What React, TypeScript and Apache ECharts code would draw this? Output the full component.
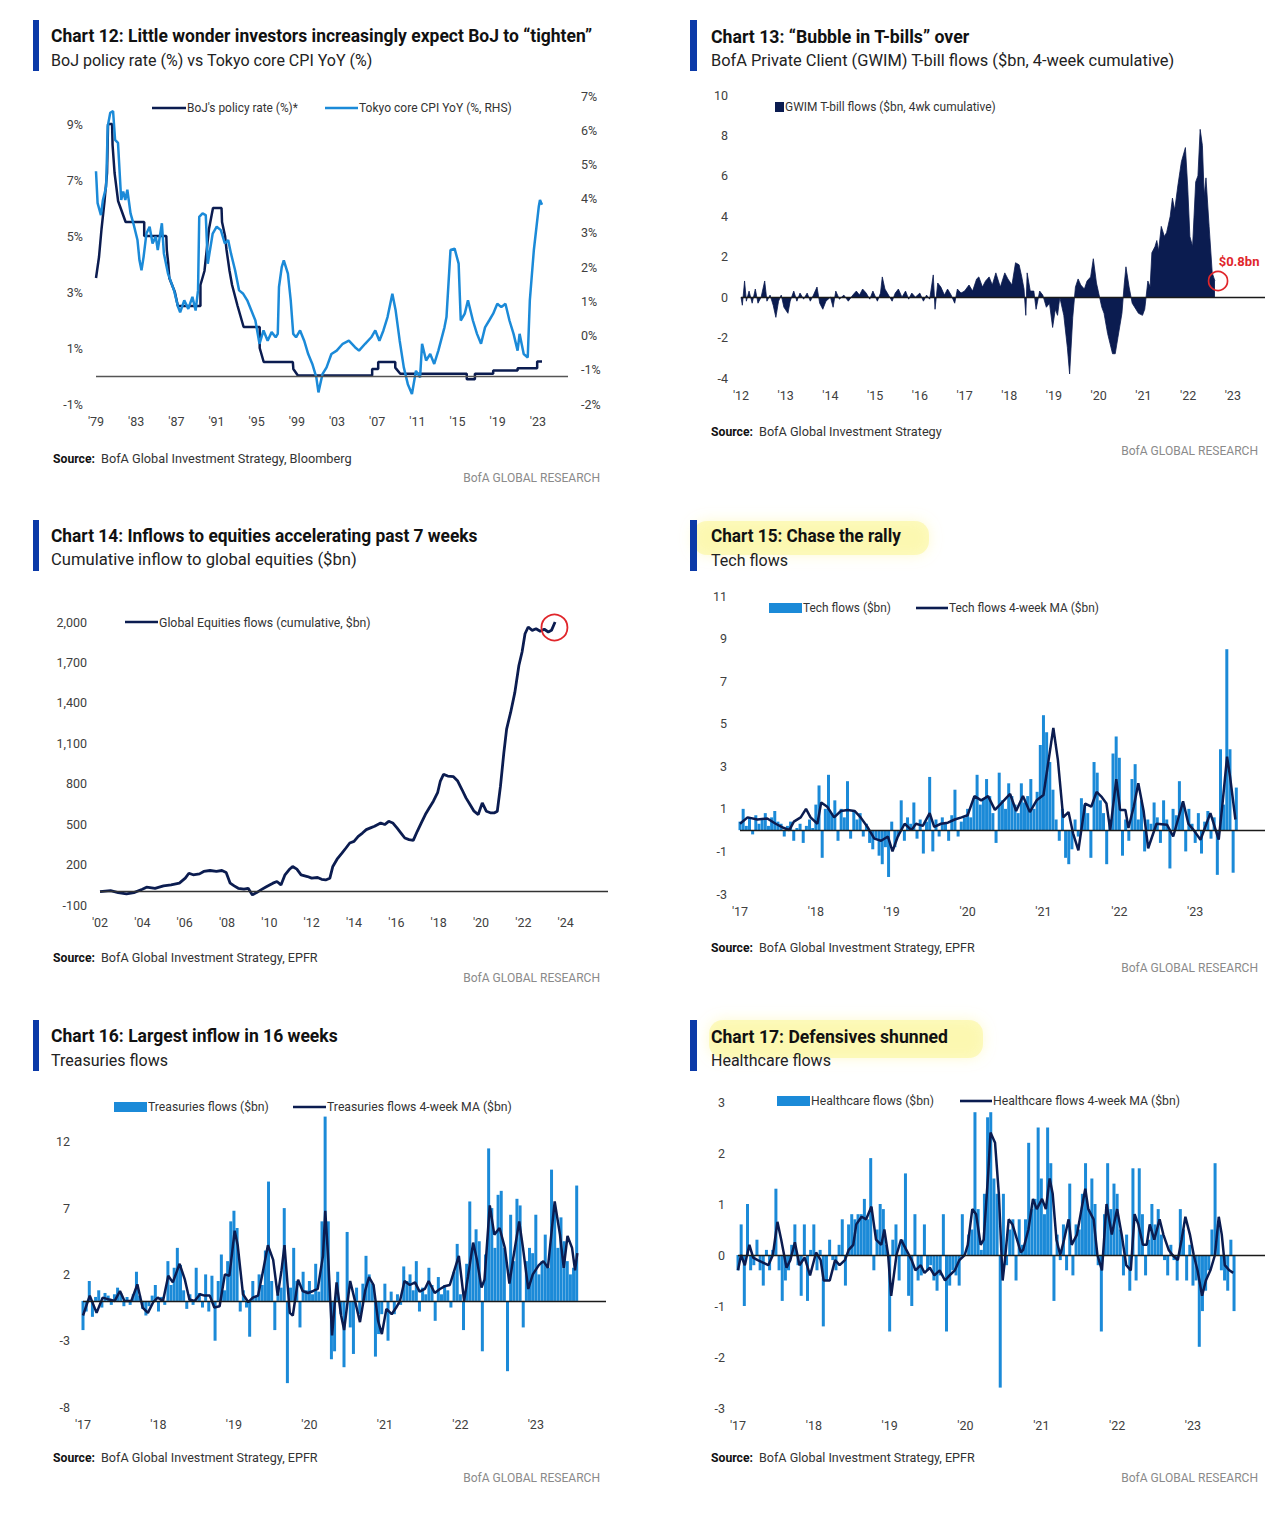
import React, { useEffect, useRef } from "react";
import * as echarts from "echarts";

const FONT = "Roboto, 'Liberation Sans', sans-serif";
const NAVY = "#0b1c50";
const SKY = "#1b8ad8";
const BRAND_BLUE = "#0b3aa8";
const RED = "#e0262b";
const AXIS_TEXT = "#404040";

// ---------- Chart 12: BoJ policy rate (LHS) vs Tokyo core CPI YoY (RHS) ----------
const BOJ_POLICY_RATE = [
  [1979.0, 3.5], [1979.3, 4.25], [1979.55, 5.25], [1979.85, 6.25], [1980.1, 7.25], [1980.2, 9.0], [1980.6, 9.0],
  [1980.65, 8.25], [1980.85, 7.25], [1981.2, 6.25], [1981.95, 5.5], [1983.8, 5.5], [1983.8, 5.0], [1986.0, 5.0],
  [1986.05, 4.5], [1986.2, 4.0], [1986.3, 3.5], [1986.85, 3.0], [1987.15, 2.5], [1989.4, 2.5], [1989.4, 3.25],
  [1989.8, 3.75], [1989.95, 4.25], [1990.25, 5.25], [1990.65, 6.0], [1991.5, 6.0], [1991.55, 5.5], [1991.85, 5.0],
  [1992.0, 4.5], [1992.3, 3.75], [1992.55, 3.25], [1993.1, 2.5], [1993.7, 1.75], [1995.3, 1.75], [1995.3, 1.0],
  [1995.7, 0.5], [1998.6, 0.5], [1998.65, 0.25], [1999.1, 0.02], [2006.5, 0.02], [2006.5, 0.25], [2007.1, 0.25],
  [2007.1, 0.5], [2008.8, 0.5], [2008.8, 0.3], [2009.3, 0.08], [2015.92, 0.08], [2015.92, -0.12], [2016.73, -0.12],
  [2016.73, 0.08], [2018.55, 0.08], [2018.55, 0.2], [2020.98, 0.2], [2020.98, 0.28], [2022.93, 0.28], [2022.93, 0.52],
  [2023.41, 0.52]
];
const TOKYO_CORE_CPI = [
  [1979.0, 4.8], [1979.16, 3.87], [1979.49, 3.52], [1979.69, 3.96], [1980.01, 4.35], [1980.17, 6.12], [1980.42, 6.51],
  [1980.7, 6.56], [1980.9, 5.72], [1981.19, 5.63], [1981.51, 3.96], [1981.71, 4.21], [1981.92, 3.96], [1982.12, 4.26],
  [1982.44, 3.57], [1982.72, 3.28], [1983.13, 2.79], [1983.33, 2.2], [1983.53, 1.91], [1983.74, 2.3], [1984.02, 2.98],
  [1984.34, 3.18], [1984.63, 2.69], [1984.95, 2.89], [1985.15, 2.5], [1985.56, 3.28], [1985.76, 2.4], [1986.17, 1.81],
  [1986.77, 1.32], [1987.18, 0.83], [1987.38, 0.68], [1987.79, 1.03], [1988.19, 0.78], [1988.6, 1.13], [1988.92, 0.73],
  [1989.16, 1.32], [1989.28, 3.47], [1989.61, 3.57], [1989.93, 3.52], [1990.13, 2.1], [1990.62, 2.98], [1991.02, 3.18],
  [1991.43, 3.08], [1991.83, 2.69], [1992.16, 2.79], [1992.44, 2.4], [1992.85, 1.91], [1993.25, 1.32], [1993.66, 1.22],
  [1994.06, 1.03], [1994.47, 0.73], [1994.87, 0.44], [1995.28, -0.24], [1995.68, 0.15], [1996.09, -0.15], [1996.49, 0.1],
  [1996.89, -0.05], [1997.1, 0.05], [1997.22, 1.42], [1997.5, 2.01], [1997.7, 2.2], [1998.11, 1.81], [1998.39, 1.03],
  [1998.64, 0.05], [1998.92, -0.05], [1999.32, 0.15], [1999.73, -0.15], [2000.13, -0.54], [2000.54, -0.83],
  [2000.94, -1.22], [2001.15, -1.66], [2001.55, -1.13], [2001.96, -0.93], [2002.44, -0.54], [2002.97, -0.44],
  [2003.57, -0.24], [2004.18, -0.15], [2004.79, -0.34], [2005.19, -0.44], [2005.8, -0.24], [2006.41, -0.05],
  [2006.81, 0.15], [2007.22, -0.15], [2007.62, 0.15], [2008.03, 0.54], [2008.51, 1.22], [2008.84, 0.73],
  [2009.24, -0.15], [2009.65, -0.93], [2010.05, -1.42], [2010.46, -1.71], [2010.86, -1.03], [2011.27, -1.22],
  [2011.47, -0.24], [2011.87, -0.73], [2012.28, -0.54], [2012.68, -0.83], [2013.09, -0.44], [2013.7, 0.24],
  [2013.9, 0.54], [2014.3, 2.5], [2014.71, 2.54], [2015.11, 2.1], [2015.32, 0.44], [2015.72, 0.64], [2016.04, 1.03],
  [2016.53, 0.44], [2016.94, 0.05], [2017.34, -0.24], [2017.74, 0.24], [2018.15, 0.44], [2018.55, 0.64],
  [2018.96, 0.93], [2019.36, 0.83], [2019.77, 0.93], [2020.17, 0.44], [2020.58, 0.05], [2020.98, -0.44],
  [2021.18, 0.05], [2021.59, -0.54], [2021.99, -0.64], [2022.2, 1.03], [2022.6, 2.5], [2023.09, 3.77],
  [2023.21, 3.96], [2023.41, 3.82]
];

// ---------- Chart 13: GWIM T-bill flows ($bn, 4wk cumulative) ----------
const GWIM_TBILL_FLOWS = [
  [2012.0, 0.0], [2012.03, -0.4], [2012.08, 0.8], [2012.12, -0.2], [2012.18, 0.3], [2012.25, -0.3], [2012.32, 0.4],
  [2012.38, -0.3], [2012.45, 0.0], [2012.53, 0.8], [2012.58, -0.2], [2012.65, 0.1], [2012.72, -0.4], [2012.78, -1.0],
  [2012.84, -0.2], [2012.9, 0.1], [2012.96, -0.5], [2013.05, -0.8], [2013.1, -0.2], [2013.18, 0.3], [2013.25, -0.2],
  [2013.32, 0.2], [2013.4, -0.1], [2013.48, 0.2], [2013.55, -0.2], [2013.62, 0.1], [2013.7, 0.5], [2013.76, -0.3],
  [2013.83, -0.6], [2013.9, -0.2], [2014.0, 0.0], [2014.06, -0.5], [2014.12, 0.3], [2014.2, -0.1], [2014.3, 0.1],
  [2014.4, -0.2], [2014.5, 0.1], [2014.58, 0.3], [2014.65, 0.1], [2014.72, 0.4], [2014.8, 0.2], [2014.88, -0.1],
  [2014.95, 0.3], [2015.05, -0.2], [2015.12, 0.2], [2015.16, 1.0], [2015.22, 0.4], [2015.3, 0.1], [2015.38, -0.2],
  [2015.45, 0.2], [2015.52, 0.4], [2015.6, 0.0], [2015.68, 0.3], [2015.75, -0.1], [2015.82, 0.2], [2015.9, 0.0],
  [2016.0, 0.2], [2016.08, -0.2], [2016.15, 0.1], [2016.22, -0.1], [2016.3, 1.1], [2016.34, -0.6], [2016.4, 0.7],
  [2016.47, 0.5], [2016.55, 0.1], [2016.62, 0.4], [2016.7, 0.1], [2016.78, -0.3], [2016.84, 0.4], [2016.92, 0.2],
  [2017.0, 0.3], [2017.1, 0.6], [2017.18, 0.3], [2017.27, 0.9], [2017.32, 1.0], [2017.4, 0.5], [2017.47, 0.8],
  [2017.55, 1.0], [2017.62, 0.6], [2017.7, 1.2], [2017.8, 0.5], [2017.9, 1.2], [2017.97, 0.9], [2018.06, 0.6],
  [2018.14, 1.7], [2018.22, 1.6], [2018.28, 1.0], [2018.33, 0.4], [2018.37, -0.9], [2018.4, 1.2], [2018.47, 0.3],
  [2018.55, 0.3], [2018.6, -0.6], [2018.68, 0.3], [2018.75, 0.1], [2018.83, -0.5], [2018.9, -0.3], [2018.97, -1.5],
  [2019.03, -0.6], [2019.08, -0.9], [2019.13, 0.0], [2019.22, -0.9], [2019.3, -2.5], [2019.35, -3.8], [2019.42, -1.0],
  [2019.48, 0.5], [2019.54, 0.9], [2019.6, 0.6], [2019.68, 0.4], [2019.74, 0.8], [2019.82, 1.0], [2019.88, 1.9],
  [2019.95, 0.7], [2020.0, 0.2], [2020.07, -0.5], [2020.12, -0.8], [2020.2, -1.8], [2020.31, -2.8], [2020.37, -2.8],
  [2020.43, -2.0], [2020.52, -0.8], [2020.57, 0.6], [2020.61, 1.5], [2020.68, 0.5], [2020.75, -0.3], [2020.89, -0.8],
  [2020.98, -0.9], [2021.03, -0.6], [2021.1, 0.8], [2021.15, 0.5], [2021.19, 2.2], [2021.26, 2.5], [2021.3, 2.8],
  [2021.34, 2.3], [2021.4, 3.5], [2021.47, 3.0], [2021.52, 3.2], [2021.6, 4.0], [2021.65, 4.9], [2021.7, 4.3],
  [2021.77, 5.5], [2021.85, 6.7], [2021.94, 7.4], [2021.99, 5.5], [2022.04, 3.0], [2022.1, 2.5], [2022.17, 5.7],
  [2022.22, 6.0], [2022.27, 8.3], [2022.32, 7.5], [2022.36, 5.0], [2022.4, 5.9], [2022.47, 3.5], [2022.54, 1.2],
  [2022.6, 0.8]
];

// ---------- Chart 14: Global equities flows (cumulative, $bn) ----------
const GLOBAL_EQUITY_FLOWS = [
  [2002.0, 0], [2002.5, 7], [2002.86, -8], [2003.25, -18], [2003.6, -8], [2004.0, 17], [2004.2, 32], [2004.6, 24],
  [2005.0, 42], [2005.36, 49], [2005.75, 62], [2006.03, 99], [2006.2, 136], [2006.4, 124], [2006.7, 131], [2006.9, 149],
  [2007.2, 156], [2007.5, 149], [2007.76, 156], [2007.96, 141], [2008.15, 62], [2008.34, 42], [2008.53, 24], [2008.8, 17],
  [2009.0, 24], [2009.2, -25], [2009.4, -8], [2009.6, 12], [2009.88, 37], [2010.17, 62], [2010.36, 74], [2010.55, 49],
  [2010.74, 124], [2010.93, 161], [2011.1, 186], [2011.3, 166], [2011.5, 124], [2011.8, 111], [2012.0, 99],
  [2012.28, 104], [2012.47, 91], [2012.66, 86], [2012.86, 99], [2013.0, 186], [2013.2, 240], [2013.43, 285],
  [2013.62, 323], [2013.8, 360], [2014.0, 372], [2014.2, 410], [2014.4, 434], [2014.58, 459], [2014.78, 472],
  [2014.97, 484], [2015.26, 509], [2015.45, 497], [2015.64, 521], [2015.83, 509], [2016.03, 472], [2016.22, 434],
  [2016.4, 397], [2016.6, 385], [2016.8, 380], [2016.99, 447], [2017.18, 509], [2017.37, 571], [2017.56, 621],
  [2017.75, 670], [2017.95, 733], [2018.08, 820], [2018.23, 869], [2018.43, 857], [2018.7, 852], [2018.9, 820],
  [2019.1, 757], [2019.29, 695], [2019.48, 646], [2019.67, 596], [2019.87, 571], [2020.06, 658], [2020.25, 596],
  [2020.44, 584], [2020.64, 584], [2020.77, 596], [2020.92, 782], [2021.08, 1031], [2021.21, 1205], [2021.4, 1329],
  [2021.6, 1478], [2021.79, 1677], [2021.94, 1777], [2022.08, 1913], [2022.23, 1963], [2022.42, 1938], [2022.6, 1950],
  [2022.8, 1931], [2022.99, 1946], [2023.18, 1926], [2023.33, 1938], [2023.5, 2000]
];

// ---------- Weekly sector flows, sampled every half month from Jan 2017 ----------
const FLOW_START = 2017;
const FLOW_STEP = 1 / 24;

const TECH_FLOWS = [
  0.4, 1.0, 0.2, 0.6, -0.2, 0.7, 0.3, 0.5, 0.8, 0.2, 0.6, 0.9, 0.4, 0.3, -0.3, 0.2, 0.4, -0.5, 0.1, 0.3, -0.6, 0.2, 0.5, 0.1,
  1.2, 2.1, -1.3, 1.0, 2.6, 0.8, 1.4, -0.5, 1.0, 0.6, 2.3, -0.4, 0.9, 0.5, 0.8, -0.3, 0.3, -0.6, -0.9, -0.4, -1.2, -1.6, -0.8, -2.2,
  0.4, -0.8, -0.3, 1.4, -0.5, 0.6, 0.3, 1.3, -0.4, 0.5, -1.1, 0.4, 2.5, -1.0, 0.5, -0.3, 0.6, 0.3, -0.5, 0.7, 1.9, -0.3, 0.4, 0.6,
  1.0, 0.6, 1.5, 2.6, 1.2, 1.5, 2.4, 1.6, 0.8, -0.6, 2.7, 1.4, 1.0, 2.2, 1.6, 1.2, 0.8, 2.2, 1.3, 1.6, 2.4, 1.0, 1.8, 4.0,
  5.4, 4.6, 3.2, 1.9, 0.5, -0.5, 1.0, -1.3, -1.6, -0.9, 0.5, -0.3, 1.5, 1.2, 0.8, -1.3, 3.2, 2.7, 1.4, 0.8, -1.6, 0.5, 3.6, 4.4,
  3.4, -1.2, 0.5, -0.5, 2.4, 3.1, 0.5, 1.4, -1.0, 0.5, 0.3, 1.3, 0.6, -0.6, 1.4, 0.5, -1.8, 1.0, 0.7, 2.3, 1.3, -1.0, 1.0, 0.3,
  -0.6, 0.8, -1.1, 0.4, 0.9, -0.4, 0.6, -2.1, 3.8, 1.2, 8.5, 3.8, -2.0, 2.0
];
const TECH_FLOWS_MA = [
  [2017.0, 0.3], [2017.1, 0.6], [2017.23, 0.5], [2017.36, 0.55], [2017.47, 0.3], [2017.58, 0.1], [2017.65, 0.0],
  [2017.71, 0.4], [2017.8, 0.6], [2017.87, 1.0], [2017.93, 0.6], [2018.02, 0.3], [2018.07, 1.3], [2018.15, 1.1],
  [2018.24, 0.6], [2018.33, 0.9], [2018.42, 0.95], [2018.51, 0.9], [2018.59, 0.6], [2018.68, 0.15], [2018.77, -0.4],
  [2018.86, -0.5], [2018.95, -0.3], [2019.01, -1.0], [2019.08, -0.3], [2019.17, 0.3], [2019.26, 0.0], [2019.32, 0.3],
  [2019.41, 0.2], [2019.5, 0.8], [2019.56, 0.15], [2019.65, 0.3], [2019.74, 0.35], [2019.83, 0.5], [2019.92, 0.6],
  [2020.0, 0.7], [2020.09, 1.6], [2020.18, 1.4], [2020.27, 1.6], [2020.36, 0.95], [2020.44, 1.25], [2020.56, 1.7],
  [2020.64, 0.9], [2020.73, 1.6], [2020.82, 0.85], [2020.91, 1.4], [2021.0, 1.65], [2021.13, 4.8], [2021.19, 3.3],
  [2021.26, 0.6], [2021.33, 0.85], [2021.39, -0.15], [2021.46, -0.95], [2021.55, 1.25], [2021.63, 1.1], [2021.7, 1.8],
  [2021.77, 1.55], [2021.83, 1.25], [2021.88, 0.0], [2021.96, 2.4], [2022.01, 0.95], [2022.08, 0.95], [2022.12, 0.1],
  [2022.19, 1.1], [2022.25, 2.2], [2022.32, 0.9], [2022.38, -0.85], [2022.49, 0.3], [2022.63, 0.25], [2022.71, -0.3],
  [2022.84, 1.35], [2022.91, 0.3], [2022.98, 0.0], [2023.07, -0.45], [2023.2, 0.8], [2023.31, -0.45], [2023.36, 1.25],
  [2023.42, 3.45], [2023.46, 2.5], [2023.53, 0.5]
];

const TREASURY_FLOWS = [
  -2.2, -0.8, 1.5, -1.2, 0.3, 0.8, -0.5, 0.6, 0.4, -0.3, 0.5, 1.0, 0.6, -0.4, 0.3, -0.3, 0.5, 2.2, 0.4, -0.6, -1.1, -0.4, 0.4, 1.2,
  -0.8, 0.3, -0.3, 3.0, 1.2, 2.5, 4.0, 2.7, 0.8, -0.6, 0.5, -0.3, 2.5, 0.6, -0.5, 2.0, -0.8, 1.9, -3.0, 1.5, 3.5, 0.8, 3.0, 6.0,
  6.8, 5.5, -0.8, 0.8, -0.5, -2.7, 1.5, 0.3, 2.0, 1.2, 3.8, 9.0, 1.5, -2.2, 0.5, 1.0, 7.0, -6.2, 1.0, 4.0, 1.5, -2.0, 2.2, 0.8,
  1.5, 0.5, 2.8, 0.7, 6.0, 13.9, 6.0, -4.4, -3.8, 2.2, -1.0, -5.0, 5.2, -2.0, -4.0, 1.0, -1.0, 1.3, 3.4, 2.0, 1.3, -4.2, -2.5, -1.0,
  1.3, -3.0, 0.7, -1.0, 0.5, -0.3, 2.6, 1.5, 2.0, 0.8, 3.0, -0.8, 1.0, 0.5, 2.5, 1.2, -1.5, 1.8, 0.5, 1.2, 0.8, -0.5, 2.2, 4.3,
  0.5, -2.2, 2.8, 7.5, 4.0, 5.4, 4.5, -3.8, 3.5, 11.5, 7.0, 4.0, 8.0, 8.3, 4.0, -5.3, 6.5, 3.0, 7.7, 7.2, -2.0, 3.0, 4.0, 3.6,
  6.5, 2.0, 3.0, 5.0, 2.5, 9.9, 7.0, 4.0, 6.3, 4.5, 3.0, 2.0, 2.5, 8.7
];
const TREASURY_FLOWS_MA = [
  [2017.0, -1.1], [2017.09, 0.4], [2017.18, -0.9], [2017.26, 0.25], [2017.35, 0.1], [2017.42, 0.0], [2017.49, 0.75],
  [2017.55, 0.0], [2017.64, 0.0], [2017.72, 1.25], [2017.79, -0.5], [2017.86, -0.9], [2017.93, -0.1], [2017.99, 0.25],
  [2018.06, 0.0], [2018.13, 1.9], [2018.19, 1.4], [2018.28, 2.8], [2018.35, 1.6], [2018.41, 0.1], [2018.48, 0.0],
  [2018.55, 0.5], [2018.61, 0.4], [2018.68, 0.4], [2018.74, -0.5], [2018.81, -0.4], [2018.88, 2.0], [2018.94, 1.9],
  [2019.01, 5.3], [2019.05, 4.2], [2019.12, 0.5], [2019.19, -0.1], [2019.25, 0.25], [2019.32, 0.4], [2019.38, 2.1],
  [2019.45, 4.2], [2019.52, 3.1], [2019.58, 0.4], [2019.63, 2.3], [2019.67, 4.2], [2019.74, -0.9], [2019.78, -1.1],
  [2019.85, 1.6], [2019.91, 0.75], [2019.98, 0.6], [2020.05, 0.75], [2020.11, 0.9], [2020.18, 3.4], [2020.21, 6.8],
  [2020.25, 3.1], [2020.3, -2.6], [2020.36, 1.4], [2020.42, -1.1], [2020.46, -2.2], [2020.54, 1.5], [2020.6, 0.1],
  [2020.67, -1.6], [2020.74, 0.8], [2020.79, 1.8], [2020.85, 1.2], [2020.91, -1.5], [2020.96, -2.5], [2021.02, -0.6],
  [2021.09, -1.0], [2021.15, -0.5], [2021.2, 0.0], [2021.26, 1.5], [2021.33, 1.2], [2021.4, 1.4], [2021.46, 0.7],
  [2021.53, 0.9], [2021.58, 1.5], [2021.66, 0.6], [2021.73, 0.9], [2021.79, 1.1], [2021.86, 1.2], [2021.92, 2.3],
  [2021.98, 3.4], [2022.05, 0.0], [2022.1, 1.8], [2022.17, 4.4], [2022.22, 3.1], [2022.28, 1.0], [2022.32, 1.6],
  [2022.39, 7.2], [2022.45, 5.0], [2022.52, 5.5], [2022.59, 4.0], [2022.65, 1.3], [2022.7, 3.2], [2022.78, 6.0],
  [2022.83, 4.0], [2022.9, 0.9], [2022.96, 2.0], [2023.04, 2.7], [2023.1, 3.0], [2023.16, 2.5], [2023.25, 7.5],
  [2023.32, 5.0], [2023.37, 2.5], [2023.42, 4.9], [2023.48, 4.0], [2023.52, 2.3], [2023.55, 3.6]
];

const HEALTHCARE_FLOWS = [
  -0.3, 0.6, -1.0, 1.0, -0.3, -0.2, 0.3, -0.3, -0.6, 0.1, -0.3, 0.1, 1.3, -0.3, -0.9, -0.5, -0.3, 0.2, 0.6, -0.2, -0.8, 0.6, -0.9, 0.1,
  0.6, -0.3, 0.1, -1.4, -0.5, 0.3, -0.1, -0.3, 0.2, 0.7, -0.6, 0.6, 0.8, 0.7, 0.8, 0.8, 1.1, 0.7, 1.9, -0.3, 0.5, 1.0, 0.9, 0.2,
  -1.5, 0.3, 0.6, -0.5, 0.3, 1.6, -0.8, -1.0, 0.8, -0.5, -0.4, 0.6, -0.3, -0.2, -0.5, -0.7, -0.4, 0.8, -1.5, -0.6, -0.3, -0.4, -0.6, 0.8,
  0.0, 0.4, 0.5, 2.8, 0.9, 0.1, 1.2, 2.7, 2.8, 1.5, 1.2, -2.6, 1.2, -0.2, 0.5, 0.7, -0.5, 0.7, 0.2, 0.7, 2.2, 0.9, 1.1, 2.5,
  1.5, 0.8, 2.5, 1.8, -0.9, 0.4, -0.1, 0.6, -0.3, 1.4, -0.4, 0.6, 0.5, 1.2, 1.8, 0.9, 1.5, 1.0, -0.2, -1.5, 0.8, 1.8, 0.9, 1.4,
  1.2, 0.5, -0.4, 0.4, -0.7, 1.7, -0.5, 1.7, 0.8, -0.4, 0.3, 1.0, 0.6, 0.9, 0.4, -0.1, -0.4, 0.2, -0.1, -0.5, 0.9, 0.5, -0.5, 0.2,
  -0.6, -0.5, -1.8, -1.1, -0.7, -0.3, 0.5, 1.8, 0.6, -0.3, -0.5, -0.7, 0.3, -1.1
];
const HEALTHCARE_FLOWS_MA = [
  [2017.0, -0.3], [2017.04, 0.0], [2017.09, -0.2], [2017.15, 0.2], [2017.2, -0.05], [2017.26, -0.1], [2017.33, -0.15],
  [2017.4, -0.2], [2017.46, 0.0], [2017.52, 0.65], [2017.57, 0.3], [2017.64, -0.25], [2017.69, -0.1], [2017.75, 0.25],
  [2017.81, -0.2], [2017.88, -0.05], [2017.95, -0.4], [2018.03, 0.05], [2018.09, -0.1], [2018.13, -0.5], [2018.21, -0.5],
  [2018.28, -0.1], [2018.34, -0.2], [2018.41, -0.1], [2018.46, 0.1], [2018.52, 0.2], [2018.56, 0.6], [2018.63, 0.75],
  [2018.69, 0.7], [2018.76, 0.95], [2018.82, 0.3], [2018.89, 0.2], [2018.93, 0.5], [2018.98, 0.0], [2019.02, -0.8],
  [2019.09, 0.0], [2019.15, 0.3], [2019.22, 0.1], [2019.29, -0.1], [2019.34, -0.3], [2019.41, -0.2], [2019.46, -0.35],
  [2019.53, -0.25], [2019.59, -0.4], [2019.66, -0.3], [2019.73, -0.5], [2019.79, -0.4], [2019.86, -0.3], [2019.92, -0.1],
  [2019.99, 0.0], [2020.03, 0.2], [2020.09, 0.9], [2020.14, 0.8], [2020.2, 0.2], [2020.24, 0.3], [2020.3, 1.6],
  [2020.33, 2.4], [2020.39, 2.2], [2020.44, 1.2], [2020.49, -0.5], [2020.52, -0.1], [2020.57, 0.7], [2020.62, 0.6],
  [2020.68, 0.3], [2020.73, 0.05], [2020.76, 0.1], [2020.83, 0.5], [2020.89, 1.1], [2020.94, 0.9], [2021.01, 1.1],
  [2021.06, 0.9], [2021.11, 1.5], [2021.15, 1.2], [2021.2, 0.3], [2021.25, 0.0], [2021.3, 0.3], [2021.36, 0.7],
  [2021.4, 0.2], [2021.47, 0.4], [2021.53, 0.9], [2021.58, 1.3], [2021.62, 0.9], [2021.69, 0.7], [2021.74, 0.0],
  [2021.8, -0.3], [2021.86, 1.0], [2021.93, 0.4], [2022.0, 0.9], [2022.06, 0.4], [2022.12, -0.2], [2022.18, -0.3],
  [2022.23, 0.8], [2022.28, 0.6], [2022.34, 0.2], [2022.39, 0.2], [2022.43, 0.6], [2022.49, 0.3], [2022.56, 0.7],
  [2022.61, 0.4], [2022.68, 0.1], [2022.73, 0.0], [2022.8, -0.1], [2022.85, 0.3], [2022.9, 0.75], [2022.96, 0.4],
  [2023.01, 0.0], [2023.06, -0.3], [2023.12, -0.8], [2023.17, -0.5], [2023.23, -0.3], [2023.29, 0.0], [2023.34, 0.75],
  [2023.38, 0.4], [2023.42, -0.2], [2023.48, -0.3], [2023.53, -0.35]
];

// ---------- Layout (pixel boxes of each plot) ----------
const GRIDS = [
  { left: 96, top: 96, width: 472, height: 308 },
  { left: 741, top: 95, width: 524, height: 283 },
  { left: 100, top: 622, width: 508, height: 283 },
  { left: 740, top: 596, width: 525, height: 298 },
  { left: 83, top: 1102, width: 523, height: 305 },
  { left: 738, top: 1102, width: 527, height: 306 },
];
const X_AXES = [
  { min: 1979, max: 2026, interval: 4 },
  { min: 2012, max: 2023.72, interval: 1 },
  { min: 2002, max: 2026, interval: 2 },
  { min: 2017, max: 2023.92, interval: 1 },
  { min: 2017, max: 2023.93, interval: 1 },
  { min: 2017, max: 2023.95, interval: 1 },
];

const toFlowPairs = (vals: number[]) => vals.map((v, i) => [FLOW_START + i * FLOW_STEP, v]);

let measureCtx: CanvasRenderingContext2D | null = null;
function measureWidth(text: string, size: number, weight: string) {
  if (!measureCtx) measureCtx = document.createElement("canvas").getContext("2d");
  if (!measureCtx) return 0;
  measureCtx.font = `${weight} ${size}px ${FONT}`;
  return measureCtx.measureText(text).width;
}

function zeroLine(color: string) {
  return {
    silent: true,
    symbol: ["none", "none"],
    label: { show: false },
    lineStyle: { color, width: 1.3, type: "solid" },
    emphasis: { disabled: true },
    data: [{ yAxis: 0 }],
  };
}

// text fitted horizontally to the width it occupies in the reference (condensed face)
function txt(x: number, y: number, text: string, o: any = {}) {
  const size = o.size ?? 12;
  const weight = o.weight ?? "normal";
  let scaleX = 1;
  if (o.w) {
    const m = measureWidth(text, size, weight);
    if (m > 0) scaleX = o.w / m;
  }
  return {
    type: "text",
    x,
    y,
    scaleX,
    silent: true,
    style: {
      text,
      fontFamily: FONT,
      fontSize: size,
      fontWeight: weight,
      fill: o.color ?? "#333",
      align: o.align ?? "left",
      verticalAlign: "middle",
    },
  };
}

function header(textX: number, barX: number, barW: number, top: number, title: string, titleW: number, subtitle: string, subW: number) {
  return [
    { type: "rect", silent: true, shape: { x: barX, y: top, width: barW, height: 51 }, style: { fill: BRAND_BLUE } },
    txt(textX, top + 16, title, { size: 18, weight: "bold", color: "#111", w: titleW }),
    txt(textX, top + 40, subtitle, { size: 16.5, color: "#222", w: subW }),
  ];
}

function source(x: number, y: number, rest: string, restW: number) {
  return [
    txt(x, y, "Source:", { size: 12.5, weight: "bold", color: "#111", w: 42 }),
    txt(x + 48, y, rest, { size: 12.5, color: "#333", w: restW }),
  ];
}

function brand(rightX: number, y: number) {
  return txt(rightX, y, "BofA GLOBAL RESEARCH", { size: 12.5, color: "#8a8a8a", align: "right", w: 137 });
}

function legendLine(x1: number, x2: number, y: number, color: string, label: string, w: number) {
  return [
    { type: "line", silent: true, shape: { x1, y1: y, x2, y2: y }, style: { stroke: color, lineWidth: 2.6 } },
    txt(x2 + 1, y, label, { size: 12.5, color: "#333", w }),
  ];
}

function legendRect(x: number, y: number, rw: number, rh: number, color: string, label: string, w: number) {
  return [
    { type: "rect", silent: true, shape: { x, y: y - rh / 2, width: rw, height: rh }, style: { fill: color } },
    txt(x + rw + 1, y, label, { size: 12.5, color: "#333", w }),
  ];
}

function highlighter(x: number, y: number, w: number, h: number) {
  return {
    type: "rect",
    silent: true,
    shape: { x, y, width: w, height: h, r: 14 },
    style: { fill: "rgba(251,245,150,0.55)", shadowBlur: 14, shadowColor: "rgba(251,245,150,0.8)" },
  };
}

function buildOption() {
  const labelBase = { color: AXIS_TEXT, fontFamily: FONT, fontSize: 12.5 };
  const xFmt = (v: number) => (Number.isInteger(v) ? "'" + String(v).slice(2) : "");

  const xAxis = X_AXES.map((a, i) => ({
    type: "value",
    gridIndex: i,
    min: a.min,
    max: a.max,
    interval: a.interval,
    axisLine: { show: false, onZero: false },
    axisTick: { show: false },
    splitLine: { show: false },
    axisLabel: { ...labelBase, margin: 11, formatter: xFmt, showMinLabel: true, showMaxLabel: false },
  }));

  const yBase = (gridIndex: number, min: number, max: number, interval: number, formatter: any, extra: any = {}) => ({
    type: "value",
    gridIndex,
    min,
    max,
    interval,
    axisLine: { show: false, onZero: false },
    axisTick: { show: false },
    splitLine: { show: false },
    axisLabel: { ...labelBase, margin: 13, formatter, showMinLabel: true, ...(extra.label || {}) },
    position: extra.position || "left",
  });

  const pct = (v: number) => v + "%";
  const plain = (v: number) => String(v);
  const comma = (v: number) => v.toLocaleString("en-US");

  const yAxis = [
    yBase(0, -1, 10, 2, pct, { label: { showMaxLabel: false } }),
    yBase(0, -2, 7, 1, pct, { position: "right" }),
    yBase(1, -4, 10, 2, plain),
    yBase(2, -100, 2000, 300, comma),
    yBase(3, -3, 11, 2, plain),
    yBase(4, -8, 15, 5, plain, { label: { showMaxLabel: false } }),
    yBase(5, -3, 3, 1, plain),
  ];

  const line = (name: string, xi: number, yi: number, data: any, color: string, width: number, extra: any = {}) => ({
    name,
    type: "line",
    xAxisIndex: xi,
    yAxisIndex: yi,
    data,
    symbol: "none",
    showSymbol: false,
    lineStyle: { color, width },
    itemStyle: { color },
    emphasis: { disabled: true },
    ...extra,
  });

  const bars = (name: string, xi: number, yi: number, vals: number[]) => ({
    name,
    type: "bar",
    xAxisIndex: xi,
    yAxisIndex: yi,
    data: toFlowPairs(vals),
    barWidth: 3,
    itemStyle: { color: SKY },
    emphasis: { disabled: true },
    markLine: zeroLine("#1a1a1a"),
    z: 2,
  });

  const series = [
    line("BoJ's policy rate (%)*", 0, 0, BOJ_POLICY_RATE, NAVY, 2.5, { markLine: zeroLine("#555"), z: 3 }),
    line("Tokyo core CPI YoY (%, RHS)", 0, 1, TOKYO_CORE_CPI, SKY, 2.5, { z: 4 }),
    line("GWIM T-bill flows ($bn, 4wk cumulative)", 1, 2, GWIM_TBILL_FLOWS, NAVY, 0.8, {
      areaStyle: { color: NAVY, opacity: 1 },
      markLine: zeroLine("#1a1a1a"),
      markPoint: {
        silent: true,
        data: [
          {
            coord: [2022.67, 0.8],
            symbol: "circle",
            symbolSize: 19,
            itemStyle: { color: "rgba(255,255,255,0)", borderColor: RED, borderWidth: 1.7 },
            label: { show: true, formatter: "$0.8bn", color: RED, fontWeight: "bold", fontFamily: FONT, fontSize: 13, offset: [21, -19] },
          },
        ],
      },
    }),
    line("Global Equities flows (cumulative, $bn)", 2, 3, GLOBAL_EQUITY_FLOWS, NAVY, 2.8, {
      markLine: zeroLine("#333"),
      markPoint: {
        silent: true,
        data: [
          {
            coord: [2023.47, 1959],
            symbol: "circle",
            symbolSize: 26,
            itemStyle: { color: "rgba(255,255,255,0)", borderColor: RED, borderWidth: 1.8 },
            label: { show: false },
          },
        ],
      },
    }),
    bars("Tech flows ($bn)", 3, 4, TECH_FLOWS),
    line("Tech flows 4-week MA ($bn)", 3, 4, TECH_FLOWS_MA, NAVY, 2.5, { z: 3 }),
    bars("Treasuries flows ($bn)", 4, 5, TREASURY_FLOWS),
    line("Treasuries flows 4-week MA ($bn)", 4, 5, TREASURY_FLOWS_MA, NAVY, 2.5, { z: 3 }),
    bars("Healthcare flows ($bn)", 5, 6, HEALTHCARE_FLOWS),
    line("Healthcare flows 4-week MA ($bn)", 5, 6, HEALTHCARE_FLOWS_MA, NAVY, 2.5, { z: 3 }),
  ];

  const graphicElements: any[] = [
    highlighter(693, 521, 236, 34),
    highlighter(709, 1020, 274, 38),
    ...header(51, 33, 6, 20, "Chart 12: Little wonder investors increasingly expect BoJ to \u201Ctighten\u201D", 541,
      "BoJ policy rate (%) vs Tokyo core CPI YoY (%)", 322),
    ...header(711, 690, 7, 20, "Chart 13: \u201CBubble in T-bills\u201D over", 259,
      "BofA Private Client (GWIM) T-bill flows ($bn, 4-week cumulative)", 464),
    ...header(51, 33, 6, 520, "Chart 14: Inflows to equities accelerating past 7 weeks", 427,
      "Cumulative inflow to global equities ($bn)", 306),
    ...header(711, 690, 7, 520, "Chart 15: Chase the rally", 190, "Tech flows", 77),
    ...header(51, 33, 6, 1020, "Chart 16: Largest inflow in 16 weeks", 287, "Treasuries flows", 117),
    ...header(711, 690, 7, 1020, "Chart 17: Defensives shunned", 237, "Healthcare flows", 120),

    ...legendLine(152, 186, 108, NAVY, "BoJ's policy rate (%)*", 111),
    ...legendLine(325, 358, 108, SKY, "Tokyo core CPI YoY (%, RHS)", 153),
    ...legendRect(775, 107, 9, 10, NAVY, "GWIM T-bill flows ($bn, 4wk cumulative)", 211),
    ...legendLine(125, 158, 622, NAVY, "Global Equities flows (cumulative, $bn)", 212),
    ...legendRect(769, 608, 33, 10, SKY, "Tech flows ($bn)", 88),
    ...legendLine(916, 948, 608, NAVY, "Tech flows 4-week MA ($bn)", 150),
    ...legendRect(114, 1107, 33, 10, SKY, "Treasuries flows ($bn)", 121),
    ...legendLine(293, 326, 1107, NAVY, "Treasuries flows 4-week MA ($bn)", 185),
    ...legendRect(777, 1101, 33, 10, SKY, "Healthcare flows ($bn)", 123),
    ...legendLine(960, 992, 1101, NAVY, "Healthcare flows 4-week MA ($bn)", 187),

    ...source(53, 459, "BofA Global Investment Strategy, Bloomberg", 251),
    ...source(711, 432, "BofA Global Investment Strategy", 183),
    ...source(53, 958, "BofA Global Investment Strategy, EPFR", 217),
    ...source(711, 948, "BofA Global Investment Strategy, EPFR", 216),
    ...source(53, 1458, "BofA Global Investment Strategy, EPFR", 217),
    ...source(711, 1458, "BofA Global Investment Strategy, EPFR", 216),
    brand(600, 478),
    brand(1258, 451),
    brand(600, 978),
    brand(1258, 968),
    brand(600, 1478),
    brand(1258, 1478),
  ];

  return {
    animation: false,
    backgroundColor: "#ffffff",
    textStyle: { fontFamily: FONT },
    grid: GRIDS.map((g) => ({ ...g, containLabel: false })),
    xAxis,
    yAxis,
    series,
    graphic: { elements: graphicElements },
  };
}

export default function App() {
  const ref = useRef<HTMLDivElement>(null);
  useEffect(() => {
    if (!ref.current) return;
    const chart = echarts.init(ref.current, null, { renderer: "svg" });
    chart.setOption(buildOption() as any);
    return () => chart.dispose();
  }, []);
  return (
    <div
      ref={ref}
      style={{ position: "absolute", left: 0, top: 0, width: 1284, height: 1527, background: "#ffffff" }}
    />
  );
}
